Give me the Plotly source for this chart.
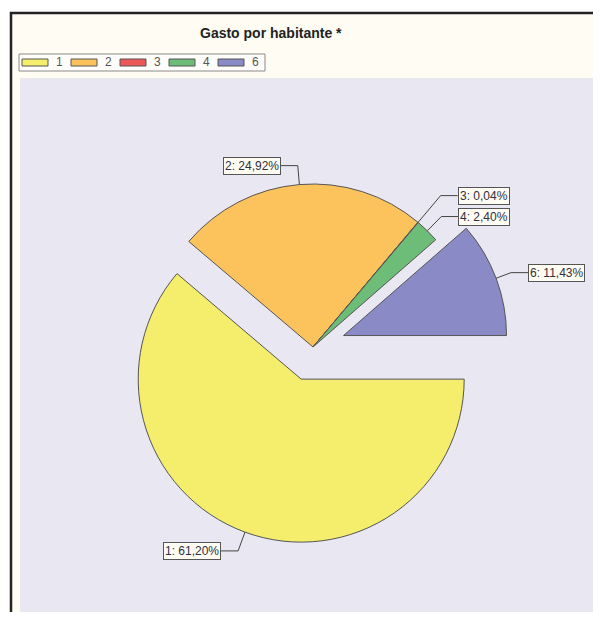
import math
import plotly.graph_objects as go

# ---- data ----
categories = ["1", "2", "3", "4", "6"]
values = [61.20, 24.92, 0.04, 2.40, 11.43]
title_text = "Gasto por habitante *"

# ---- styles ----
colors = ["#f4ee6c", "#fcc35c", "#ec5858", "#6dbd78", "#8a8ac6"]
pulls = [0.21, 0, 0, 0, 0.2]
leader = [20, 19, 35, 20, 16]   # radial length of leader lines (px)
hlen = 17                      # horizontal part of leader lines (px)

W, H = 601, 624                # window size
OFF = 8                        # page body margin
FW, FH = W - 2 * OFF, H - 2 * OFF - 4   # figure size (fits without scrolling)
CX, CY, R = 313, 347, 163      # pie centre / radius in window px


def px(x):
    return (x - OFF) / FW


def py(y):
    return 1 - (y - OFF) / FH


max_pull = max(pulls)
half = R * (1 + max_pull)
dom_x = [px(CX - half), px(CX + half)]
dom_y = [py(CY + half), py(CY - half)]

fig = go.Figure()
fig.add_trace(go.Pie(
    labels=categories,
    values=values,
    sort=False,
    direction="clockwise",
    rotation=90,
    pull=pulls,
    textinfo="none",
    hoverinfo="label+value",
    marker=dict(colors=colors, line=dict(color="#555555", width=1)),
    domain=dict(x=dom_x, y=dom_y),
    showlegend=False,
))

shapes = []
annotations = []

# outer frame and plot area background
shapes.append(dict(type="rect", xref="paper", yref="paper", layer="below",
                   x0=px(11), x1=px(660), y0=py(13), y1=py(680),
                   fillcolor="#fffdf3", line=dict(color="#222222", width=2.5)))
shapes.append(dict(type="rect", xref="paper", yref="paper", layer="below",
                   x0=px(20), x1=px(660), y0=py(78), y1=py(617),
                   fillcolor="#e9e7f2", line=dict(width=0)))

FONT = "Arial, Liberation Sans, sans-serif"

# title
annotations.append(dict(text="<b>" + title_text + "</b>", xref="paper", yref="paper",
                        x=px(271), y=py(33), showarrow=False,
                        xanchor="center", yanchor="middle",
                        font=dict(family=FONT, size=14, color="#222222")))

# custom legend
shapes.append(dict(type="rect", xref="paper", yref="paper",
                   x0=px(19), x1=px(265), y0=py(54), y1=py(71),
                   fillcolor="#fffefa", line=dict(color="#888888", width=1)))
for i, cat in enumerate(categories):
    sx = 22 + 49 * i
    shapes.append(dict(type="rect", xref="paper", yref="paper",
                       x0=px(sx), x1=px(sx + 26), y0=py(59), y1=py(66),
                       fillcolor=colors[i], line=dict(color="#555555", width=1)))
    annotations.append(dict(text=cat, xref="paper", yref="paper",
                            x=px(sx + 37), y=py(62.5), showarrow=False,
                            xanchor="center", yanchor="middle",
                            font=dict(family=FONT, size=12, color="#555555")))

# slice labels with elbow leader lines
total = sum(values)
cum = 0.0
for i, v in enumerate(values):
    a = math.radians(90 + 360 * (cum + v / 2) / total)
    cum += v
    dx, dy = math.sin(a), -math.cos(a)
    ox = CX + pulls[i] * R * dx
    oy = CY + pulls[i] * R * dy
    p0 = (ox + R * dx, oy + R * dy)
    e = (p0[0] + leader[i] * dx, p0[1] + leader[i] * dy)
    side = 1 if dx > 0 else -1
    end = (e[0] + side * hlen, e[1])
    for (a0, a1) in [(p0, e), (e, end)]:
        shapes.append(dict(type="line", xref="paper", yref="paper",
                           x0=px(a0[0]), y0=py(a0[1]), x1=px(a1[0]), y1=py(a1[1]),
                           line=dict(color="#444444", width=1)))
    txt = f"{categories[i]}: {v:.2f}%".replace(".", ",")
    annotations.append(dict(text=txt, xref="paper", yref="paper",
                            x=px(end[0]), y=py(end[1]), showarrow=False,
                            xanchor="left" if side > 0 else "right", yanchor="middle",
                            bgcolor="#fffcf4", bordercolor="#555555", borderwidth=1, borderpad=1,
                            font=dict(family=FONT, size=12, color="#2e3040")))

fig.update_layout(
    width=FW, height=FH,
    margin=dict(l=0, r=0, t=0, b=0),
    paper_bgcolor="#ffffff",
    plot_bgcolor="#ffffff",
    showlegend=False,
    shapes=shapes,
    annotations=annotations,
)

fig.write_html("out.html")
